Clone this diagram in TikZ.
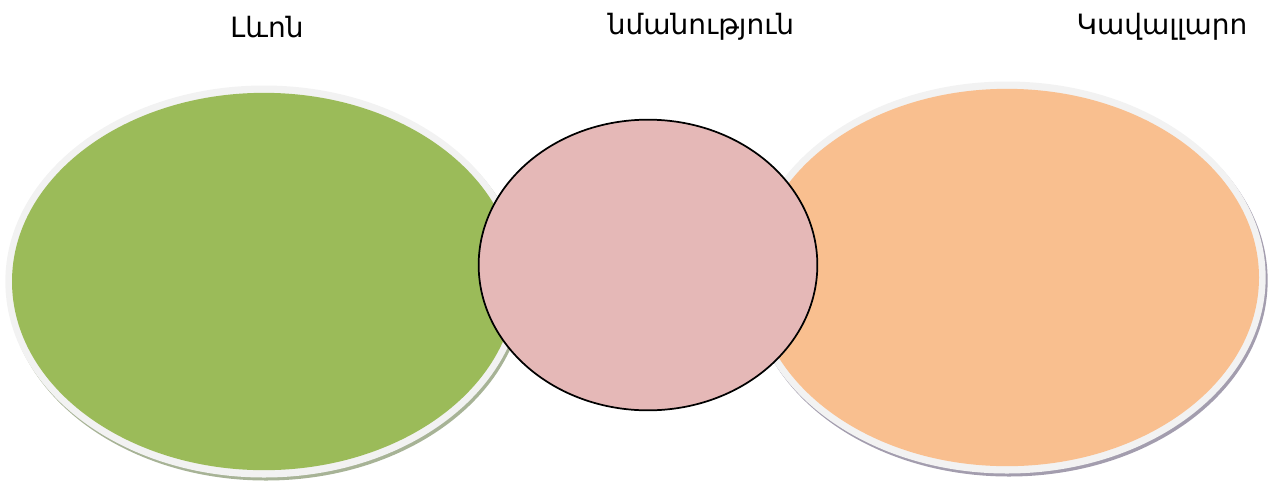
\documentclass[tikz,border=0pt]{standalone}
\usepackage{fontspec}
\setmainfont{DejaVu Sans}
\usetikzlibrary{shapes.geometric}
\definecolor{levongreen}{HTML}{9BBB59}
\definecolor{rimgrey}{HTML}{F2F2F2}
\definecolor{simpink}{HTML}{E5B8B7}
\definecolor{cavorange}{HTML}{F9BF8F}
\definecolor{greenshade}{HTML}{A7B396}
\definecolor{violetshade}{HTML}{A39DAE}
\begin{document}
\begin{tikzpicture}
[x=0.75pt,y=-0.75pt,%
  shadedecorate/.style={shape=ellipse,inner sep=0pt,minimum width=388pt,minimum height=294pt},%
  rimdecorate/.style={shape=ellipse,inner sep=0pt,fill=rimgrey,minimum width=388pt,minimum height=294pt},%
  bigdecorate/.style={shape=ellipse,inner sep=0pt,minimum width=378pt,minimum height=283pt},%
  middecorate/.style={shape=ellipse,inner sep=0pt,draw=black,line width=1.3pt,fill=simpink,minimum width=254pt,minimum height=218pt},%
  titledecorate/.style={inner sep=0pt,font=\fontsize{21}{24}\selectfont}]
\useasboundingbox (0,0) rectangle (1275,483);
%% big ellipses with rim and shadow
\foreach \nodename/\x/\y/\fillcolor/\shadecolor in {levon/264/281.5/levongreen/greenshade, kavallaro/1007/277.5/cavorange/violetshade} {
  \node (\nodename-shade) at (\x+2,\y+3) [shadedecorate,fill=\shadecolor] {};
  \node (\nodename-rim) at (\x,\y) [rimdecorate] {};
  \node (\nodename) at (\x,\y) [bigdecorate,fill=\fillcolor] {};
}
%% middle ellipse
\node (similarity) at (648,265) [middecorate] {};
%% titles
\node (levon-title) at (267,27) [titledecorate] {Լևոն};
\node (similarity-title) at (701,27) [titledecorate] {նմանություն};
\node (kavallaro-title) at (1162,27) [titledecorate] {Կավալլարո};
\end{tikzpicture}
\end{document}
